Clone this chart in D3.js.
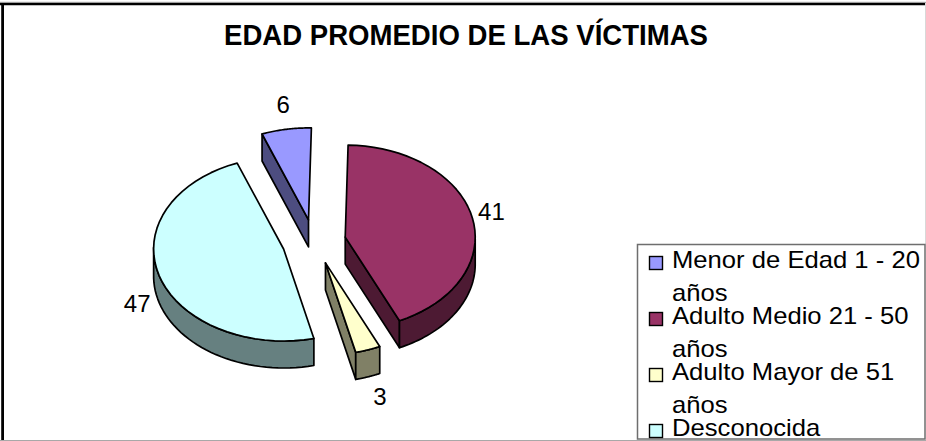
<!DOCTYPE html>
<html><head><meta charset="utf-8">
<script src="https://cdnjs.cloudflare.com/ajax/libs/d3/7.8.5/d3.min.js"></script>
<style>html,body{margin:0;padding:0;background:#fff;overflow:hidden}svg{display:block}text{font-family:"Liberation Sans",Arial,sans-serif;fill:#000}</style>
</head><body><svg id="c" width="926" height="441"></svg>
<script>
const categories = ["Menor de Edad 1 - 20 años","Adulto Medio 21 - 50 años","Adulto Mayor de 51 años","Desconocida"];
const values = [6,41,3,47];
const topColors = ["#9999FF","#993366","#FFFFCC","#CCFFFF"];
const wallColors = ["#4D4D80","#4D1A33","#808066","#668080"];
const legendLines = [["Menor de Edad 1 - 20","años"],["Adulto Medio 21 - 50","años"],["Adulto Mayor de 51","años"],["Desconocida"]];
const titleText = "EDAD PROMEDIO DE LAS VÍCTIMAS";

const svg = d3.select("#c");
const cx=314, cy=242, rx=130, ry=92, depth=27, explode=32, rot=-21, warpDeg=2;
const labelNudge=[[-3,-24],[19,-6],[12,47],[-22,28]];

const frameLine=(x1,y1,x2,y2,col,w)=>svg.append("line").attr("x1",x1).attr("y1",y1).attr("x2",x2).attr("y2",y2).attr("stroke",col).attr("stroke-width",w);
frameLine(0,2.2,926,2.2,"#c0c0c0",1);
frameLine(0,4,926,4,"#000",2.6);
frameLine(2.6,3,2.6,441,"#000",2.8);
frameLine(925.5,3,925.5,244,"#d8d8d8",1);
frameLine(0,440.5,926,440.5,"#a8a8a8",1);

svg.append("text").attr("x",466).attr("y",45).attr("text-anchor","middle")
  .attr("font-size",29).attr("font-weight","bold").attr("textLength",484).attr("lengthAdjust","spacingAndGlyphs").text(titleText);

const pie=d3.pie().sort(null).startAngle(rot*Math.PI/180).endAngle((rot+360)*Math.PI/180);
const arcs=pie(values);
// the slight perspective of the original compresses the front of the pie
const warp=a=>a+(warpDeg*Math.PI/180)*(1-Math.cos(a))/2;
const pt=(c,a0)=>{const a=warp(a0);return [c[0]+rx*Math.sin(a),c[1]-ry*Math.cos(a)];};
const line=d3.line();
const center=d=>{const m=(d.startAngle+d.endAngle)/2;return [cx+explode*Math.sin(m),cy-explode*0.7*Math.cos(m)];};
const sample=(a,b)=>d3.range(0,41).map(i=>a+(b-a)*i/40);

const g=svg.append("g").attr("stroke","#000").attr("stroke-width",1.7).attr("stroke-linejoin","round");
arcs.forEach((d,i)=>{
  const c=center(d), low=[c[0],c[1]+depth];
  const wall=(p)=>g.append("path").attr("d",line(p)+"Z").attr("fill",wallColors[i]);
  if(Math.sin(d.startAngle)<-0.1) wall([c,pt(c,d.startAngle),pt(low,d.startAngle),low]);
  if(Math.sin(d.endAngle)>0.1) wall([c,pt(c,d.endAngle),pt(low,d.endAngle),low]);
  const a=Math.max(d.startAngle,Math.PI/2), b=Math.min(d.endAngle,3*Math.PI/2);
  if(b>a){
    const s=sample(a,b);
    wall(s.map(t=>pt(c,t)).concat(s.slice().reverse().map(t=>pt(low,t))));
  }
  g.append("path").attr("d",line([c].concat(sample(d.startAngle,d.endAngle).map(t=>pt(c,t))))+"Z").attr("fill",topColors[i]);
  const m=(d.startAngle+d.endAngle)/2, o=pt(c,m);
  svg.append("text").attr("x",o[0]+labelNudge[i][0]).attr("y",o[1]+labelNudge[i][1]+8).attr("text-anchor","middle").attr("font-size",24).text(values[i]);
});

// legend
svg.append("rect").attr("x",637.5).attr("y",244.5).attr("width",287.5).attr("height",194.5).attr("fill","#fff").attr("stroke","#6e6e6e").attr("stroke-width",1.5);
let y=268;
legendLines.forEach((ls,i)=>{
  svg.append("rect").attr("x",649.5).attr("y",y-11.5).attr("width",13).attr("height",13).attr("fill",topColors[i]).attr("stroke","#000").attr("stroke-width",1.4);
  ls.forEach((t,j)=>{
    svg.append("text").attr("transform",`translate(672,${y+j*33}) scale(1.115,1)`).attr("font-size",23).text(t);
  });
  y+=56;
});
</script></body></html>
